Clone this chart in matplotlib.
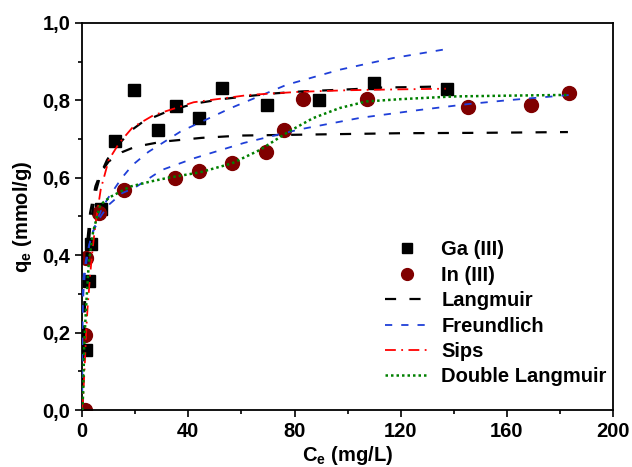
import matplotlib
matplotlib.use('Agg')
import matplotlib.pyplot as plt
from matplotlib.ticker import MultipleLocator, FuncFormatter

plt.rcParams['font.family'] = ['Liberation Sans', 'DejaVu Sans']
plt.rcParams['font.weight'] = 'bold'
plt.rcParams['axes.labelweight'] = 'bold'
plt.rcParams['font.size'] = 14.5
plt.rcParams['mathtext.fontset'] = 'custom'
plt.rcParams['mathtext.rm'] = 'Liberation Sans:bold'
plt.rcParams['mathtext.it'] = 'Liberation Sans:bold'
plt.rcParams['mathtext.bf'] = 'Liberation Sans:bold'

ga_ce = [1.5, 2.7, 3.5, 7.2, 12.4, 19.6, 28.6, 35.4, 44.2, 52.6, 69.5, 89.4, 110.1, 137.6]
ga_qe = [0.155, 0.332, 0.43, 0.52, 0.695, 0.826, 0.723, 0.786, 0.754, 0.831, 0.788, 0.80, 0.844, 0.829]

in_ce = [1.0, 1.0, 1.6, 6.4, 15.6, 34.8, 44.1, 56.4, 69.3, 76.1, 83.3, 107.2, 145.3, 169.1, 183.5]
in_qe = [0.0, 0.194, 0.392, 0.508, 0.568, 0.600, 0.618, 0.639, 0.667, 0.723, 0.803, 0.804, 0.782, 0.788, 0.818]

# fitted curves, estimated along the drawn lines
lang_ga_c = [0, 0.3, 0.7, 1.2, 2, 3, 4, 5, 7, 9.3, 12, 15.6, 19, 23, 32, 42, 52.6, 62.6,
             72.7, 82.7, 92.8, 102.8, 112.9, 122.9, 137]
lang_ga_q = [0, 0.1, 0.2, 0.3, 0.39, 0.47, 0.52, 0.56, 0.61, 0.645, 0.675, 0.70, 0.725, 0.745,
             0.771, 0.791, 0.803, 0.811, 0.818, 0.823, 0.826, 0.829, 0.833, 0.834, 0.836]

lang_in_c = [0, 0.25, 0.5, 1, 2, 3, 5, 7, 10, 15, 20, 30, 45, 60, 90, 120, 150, 183]
lang_in_q = [0, 0.12, 0.21, 0.32, 0.44, 0.51, 0.578, 0.613, 0.642, 0.666, 0.68, 0.693, 0.703,
             0.709, 0.712, 0.715, 0.716, 0.718]

freu_ga_c = [0, 0.05, 0.2, 0.5, 1, 2, 3, 5, 7.4, 10, 15, 19, 25, 31, 37, 56, 77, 97, 117, 137]
freu_ga_q = [0, 0.19, 0.25, 0.305, 0.35, 0.40, 0.435, 0.48, 0.52, 0.55, 0.60, 0.633, 0.667,
             0.693, 0.719, 0.78, 0.84, 0.879, 0.909, 0.932]

freu_in_c = [0, 0.05, 0.2, 0.5, 1, 2, 4, 7, 10, 15, 20, 30, 42, 61, 82, 105, 127, 145, 160, 184]
freu_in_q = [0, 0.24, 0.29, 0.34, 0.37, 0.41, 0.46, 0.50, 0.53, 0.56, 0.575, 0.62, 0.65, 0.69,
             0.725, 0.755, 0.775, 0.79, 0.80, 0.814]

sips_ga_c = [0, 0.5, 1, 1.5, 2, 3, 4, 5, 7, 10, 14, 19, 27, 33, 42, 63, 82, 100, 117, 137]
sips_ga_q = [0, 0.05, 0.12, 0.2, 0.26, 0.35, 0.42, 0.48, 0.57, 0.646, 0.69, 0.73, 0.762, 0.775,
             0.795, 0.814, 0.822, 0.826, 0.828, 0.83]

dl_in_c = [0, 0.2, 0.4, 0.75, 1.2, 1.6, 2.5, 4.1, 6.8, 10.5, 18, 25.6, 32.5, 44.4, 56.4, 67,
           78, 87, 97, 107, 120, 140, 160, 183.5]
dl_in_q = [0, 0.02, 0.05, 0.16, 0.23, 0.28, 0.38, 0.46, 0.53, 0.55, 0.577, 0.59, 0.60, 0.614,
           0.637, 0.672, 0.72, 0.754, 0.78, 0.797, 0.803, 0.81, 0.812, 0.814]

fig = plt.figure(figsize=(6.32, 4.67), dpi=100)
ax = fig.add_axes([0.13, 0.122, 0.84, 0.829])

ax.plot(ga_ce, ga_qe, 's', color='black', ms=9, label='Ga (III)', zorder=2)
ax.plot(in_ce, in_qe, 'o', color='#800000', ms=10, label='In (III)', zorder=2)

ax.plot(lang_ga_c, lang_ga_q, color='black', lw=1.6, dashes=(5, 6), label='Langmuir', zorder=3)
ax.plot(lang_in_c, lang_in_q, color='black', lw=1.6, dashes=(5, 6), zorder=3)
ax.plot(freu_ga_c, freu_ga_q, color='#1f3fd8', lw=1.3, dashes=(4, 5), label='Freundlich', zorder=3)
ax.plot(freu_in_c, freu_in_q, color='#1f3fd8', lw=1.3, dashes=(4, 5), zorder=3)
ax.plot(sips_ga_c, sips_ga_q, color='red', lw=1.3, dashes=(6, 3, 1, 3), label='Sips', zorder=3)
ax.plot(dl_in_c, dl_in_q, color='#008000', lw=1.8, dashes=(1, 1.2), label='Double Langmuir', zorder=3)

ax.set_xlim(0, 200)
ax.set_ylim(0, 1.0)
ax.xaxis.set_major_locator(MultipleLocator(40))
ax.xaxis.set_minor_locator(MultipleLocator(20))
ax.yaxis.set_major_locator(MultipleLocator(0.2))
ax.yaxis.set_minor_locator(MultipleLocator(0.1))
ax.yaxis.set_major_formatter(FuncFormatter(lambda v, p: ('%.1f' % v).replace('.', ',')))
ax.tick_params(which='major', direction='out', length=5, width=1.2)
ax.tick_params(which='minor', direction='out', length=3, width=1.2)
for s in ax.spines.values():
    s.set_linewidth(1.3)

ax.set_xlabel(r'C$_\mathrm{e}$ (mg/L)', labelpad=2)
ax.set_ylabel(r'q$_\mathrm{e}$ (mmol/g)', labelpad=6)

ax.legend(loc='lower right', bbox_to_anchor=(1.003, 0.04), frameon=False, handlelength=2.2,
          handletextpad=0.6, labelspacing=0.32, borderaxespad=0, markerscale=0.85)

fig.savefig('out.png', dpi=100)
